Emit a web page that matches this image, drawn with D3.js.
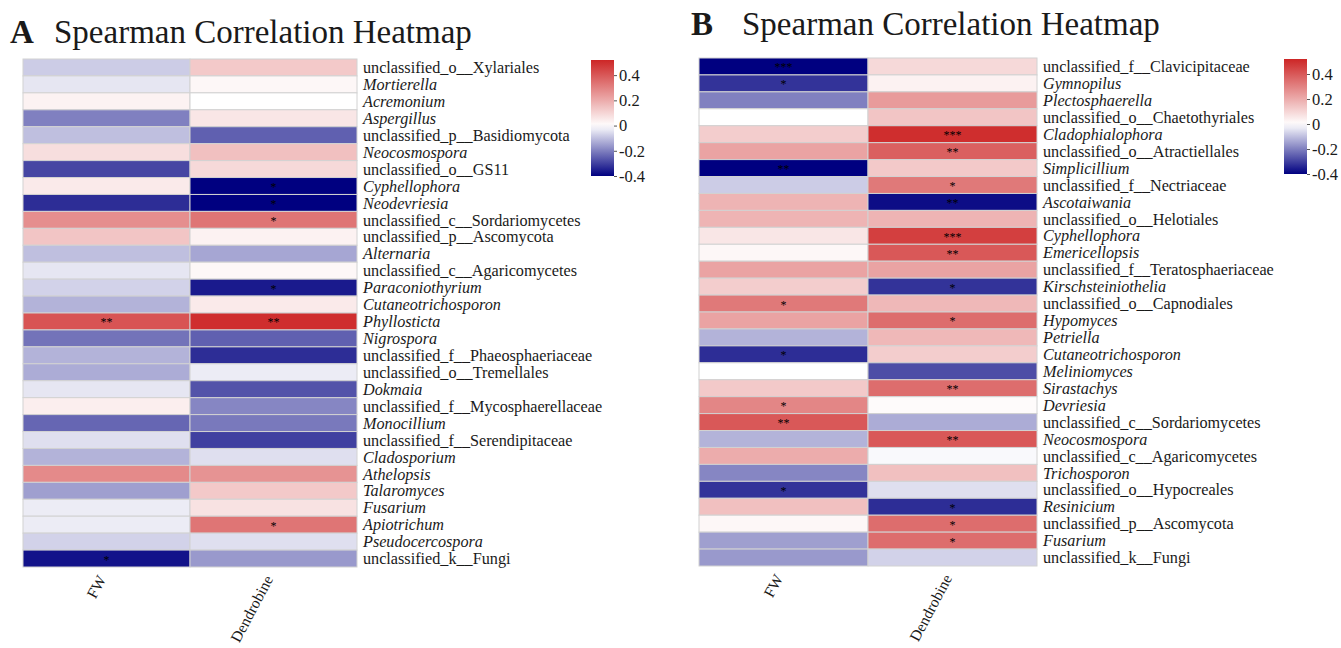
<!DOCTYPE html>
<html>
<head>
	<meta charset="UTF-8">
	<title>Spearman Correlation Heatmap</title>
	<script src="https://cdnjs.cloudflare.com/ajax/libs/d3/7.8.5/d3.min.js"></script>
	<style>
		body { margin: 0; background: #fff; }
		text { font-family: "Liberation Serif", "Times New Roman", serif; fill: #1a1a1a; }
	</style>
</head>
<body>
	<script>
		// column names (same for both panels)
		var traits = ["FW", "Dendrobine"];

		// panel A
		var taxaA = ["unclassified_o__Xylariales", "Mortierella", "Acremonium", "Aspergillus",
			"unclassified_p__Basidiomycota", "Neocosmospora", "unclassified_o__GS11", "Cyphellophora",
			"Neodevriesia", "unclassified_c__Sordariomycetes", "unclassified_p__Ascomycota", "Alternaria",
			"unclassified_c__Agaricomycetes", "Paraconiothyrium", "Cutaneotrichosporon", "Phyllosticta",
			"Nigrospora", "unclassified_f__Phaeosphaeriaceae", "unclassified_o__Tremellales", "Dokmaia",
			"unclassified_f__Mycosphaerellaceae", "Monocillium", "unclassified_f__Serendipitaceae", "Cladosporium",
			"Athelopsis", "Talaromyces", "Fusarium", "Apiotrichum", "Pseudocercospora", "unclassified_k__Fungi"];
		var fwA = [-0.08, -0.04, 0.03, -0.2, -0.1, 0.08, -0.29, 0.05, -0.33, 0.27,
			0.14, -0.1, -0.04, -0.07, -0.12, 0.41, -0.22, -0.12, -0.13, -0.04,
			0.04, -0.24, -0.05, -0.12, 0.28, -0.15, -0.03, -0.03, -0.07, -0.37];
		var dendA = [0.13, 0.02, 0.0, 0.06, -0.25, 0.15, 0.09, -0.4, -0.4, 0.33,
			0.03, -0.14, 0.02, -0.36, 0.05, 0.5, -0.25, -0.33, -0.03, -0.27,
			-0.19, -0.21, -0.3, -0.05, 0.26, 0.13, 0.07, 0.33, -0.05, -0.16];
		var sigFwA = ["", "", "", "", "", "", "", "", "", "",
			"", "", "", "", "", "**", "", "", "", "",
			"", "", "", "", "", "", "", "", "", "*"];
		var sigDendA = ["", "", "", "", "", "", "", "*", "*", "*",
			"", "", "", "*", "", "**", "", "", "", "",
			"", "", "", "", "", "", "", "*", "", ""];

		// panel B
		var taxaB = ["unclassified_f__Clavicipitaceae", "Gymnopilus", "Plectosphaerella", "unclassified_o__Chaetothyriales",
			"Cladophialophora", "unclassified_o__Atractiellales", "Simplicillium", "unclassified_f__Nectriaceae",
			"Ascotaiwania", "unclassified_o__Helotiales", "Cyphellophora", "Emericellopsis",
			"unclassified_f__Teratosphaeriaceae", "Kirschsteiniothelia", "unclassified_o__Capnodiales", "Hypomyces",
			"Petriella", "Cutaneotrichosporon", "Meliniomyces", "Sirastachys",
			"Devriesia", "unclassified_c__Sordariomycetes", "Neocosmospora", "unclassified_c__Agaricomycetes",
			"Trichosporon", "unclassified_o__Hypocreales", "Resinicium", "unclassified_p__Ascomycota",
			"Fusarium", "unclassified_k__Fungi"];
		var fwB = [-0.4, -0.32, -0.2, 0.0, 0.12, 0.22, -0.4, -0.08, 0.18, 0.18,
			0.06, 0.02, 0.22, 0.12, 0.32, 0.22, -0.12, -0.33, 0.0, 0.13,
			0.29, 0.4, -0.12, 0.2, -0.19, -0.32, 0.15, 0.02, -0.15, -0.16];
		var dendB = [0.09, 0.03, 0.24, 0.14, 0.5, 0.38, 0.13, 0.32, -0.38, 0.18,
			0.46, 0.4, 0.22, -0.32, 0.17, 0.35, 0.17, 0.12, -0.28, 0.35,
			0.01, -0.13, 0.4, -0.01, 0.15, -0.05, -0.33, 0.35, 0.35, -0.07];
		var sigFwB = ["***", "*", "", "", "", "", "**", "", "", "",
			"", "", "", "", "*", "", "", "*", "", "",
			"*", "**", "", "", "", "*", "", "", "", ""];
		var sigDendB = ["", "", "", "", "***", "**", "", "*", "**", "",
			"***", "**", "", "*", "", "*", "", "", "", "**",
			"", "", "**", "", "", "", "*", "*", "*", ""];

		var legendTicks = [-0.4, -0.2, 0, 0.2, 0.4];

		var W = 1341, H = 648;
		var svg = d3.select("body").append("svg")
			.attr("width", W)
			.attr("height", H);

		// navy -> white -> firebrick3, white at zero
		var color = d3.scaleLinear()
			.domain([-0.4, 0, 0.52])
			.range(["#000080", "#ffffff", "#cd2626"])
			.interpolate(d3.interpolateRgb)
			.clamp(true);

		function drawPanel(p) {
			var g = svg.append("g");

			// title
			var title = g.append("text")
				.attr("x", p.titleX)
				.attr("y", p.titleY)
				.style("font-size", "33px");
			title.append("tspan").style("font-weight", "bold").text(p.letter);
			title.append("tspan").attr("x", p.titleX + p.titleGap).text("Spearman Correlation Heatmap");

			var x = d3.scaleBand().domain(traits).range([p.left, p.right]);
			var y = d3.scaleBand().domain(p.taxa).range([p.top, p.bottom]);

			var cells = [];
			p.taxa.forEach(function(t, i) {
				cells.push({taxon: t, trait: traits[0], v: p.fw[i], sig: p.sigFw[i]});
				cells.push({taxon: t, trait: traits[1], v: p.dend[i], sig: p.sigDend[i]});
			});

			g.selectAll("rect.cell")
				.data(cells)
				.enter().append("rect")
				.attr("class", "cell")
				.attr("x", function(d) { return x(d.trait); })
				.attr("y", function(d) { return y(d.taxon); })
				.attr("width", x.bandwidth())
				.attr("height", y.bandwidth())
				.attr("fill", function(d) { return color(d.v); })
				.attr("stroke", "#d2d2d2")
				.attr("stroke-width", 1);

			// significance stars
			g.selectAll("text.sig")
				.data(cells.filter(function(d) { return d.sig; }))
				.enter().append("text")
				.attr("class", "sig")
				.attr("x", function(d) { return x(d.trait) + x.bandwidth() / 2; })
				.attr("y", function(d) { return y(d.taxon) + y.bandwidth() / 2 + 5; })
				.attr("text-anchor", "middle")
				.style("font-size", "12px")
				.style("fill", "#000")
				.text(function(d) { return d.sig; });

			// row labels
			g.selectAll("text.row")
				.data(p.taxa)
				.enter().append("text")
				.attr("class", "row")
				.attr("x", p.right + 6)
				.attr("y", function(d) { return y(d) + y.bandwidth() / 2; })
				.attr("dy", "0.35em")
				.style("font-size", "16.2px")
				.style("font-style", function(d) { return d.indexOf("unclassified") === 0 ? "normal" : "italic"; })
				.text(function(d) { return d; });

			// column labels
			g.selectAll("text.col")
				.data(traits)
				.enter().append("text")
				.attr("class", "col")
				.attr("transform", function(d) {
					return "translate(" + (x(d) + x.bandwidth() / 2) + "," + (p.bottom + 12) + ") rotate(-62)";
				})
				.attr("text-anchor", "end")
				.style("font-size", "15.5px")
				.text(function(d) { return d; });

			// colour legend
			var ly = d3.scaleLinear().domain([-0.4, 0.52]).range([p.legBottom, p.legTop]);
			var gradId = "grad" + p.letter;
			var grad = svg.append("defs").append("linearGradient")
				.attr("id", gradId)
				.attr("x1", 0).attr("y1", 1).attr("x2", 0).attr("y2", 0);
			d3.range(0, 1.0001, 0.05).forEach(function(t) {
				var v = -0.4 + t * 0.92;
				grad.append("stop").attr("offset", t).attr("stop-color", color(v));
			});
			g.append("rect")
				.attr("x", p.legX)
				.attr("y", p.legTop)
				.attr("width", 23)
				.attr("height", p.legBottom - p.legTop)
				.attr("fill", "url(#" + gradId + ")");

			var axis = g.append("g")
				.attr("transform", "translate(" + (p.legX + 23) + ",0)")
				.call(d3.axisRight(ly)
					.tickValues(legendTicks)
					.tickSize(3)
					.tickFormat(function(d) { return d === 0 ? "0" : String(d); }));
			axis.select(".domain").remove();
			axis.selectAll(".tick line").attr("stroke", "#555");
			axis.selectAll(".tick text")
				.attr("x", 5)
				.style("font-size", "16.5px")
				.style("font-family", "'Liberation Serif', 'Times New Roman', serif")
				.attr("fill", "#1a1a1a");
		}

		drawPanel({
			letter: "A", titleX: 10, titleY: 43, titleGap: 44,
			taxa: taxaA, fw: fwA, dend: dendA, sigFw: sigFwA, sigDend: sigDendA,
			left: 23, right: 357, top: 59, bottom: 567,
			legX: 591, legTop: 60, legBottom: 176
		});

		drawPanel({
			letter: "B", titleX: 691, titleY: 35, titleGap: 51,
			taxa: taxaB, fw: fwB, dend: dendB, sigFw: sigFwB, sigDend: sigDendB,
			left: 699, right: 1037, top: 58, bottom: 566,
			legX: 1284, legTop: 59, legBottom: 174
		});
	</script>
</body>
</html>
